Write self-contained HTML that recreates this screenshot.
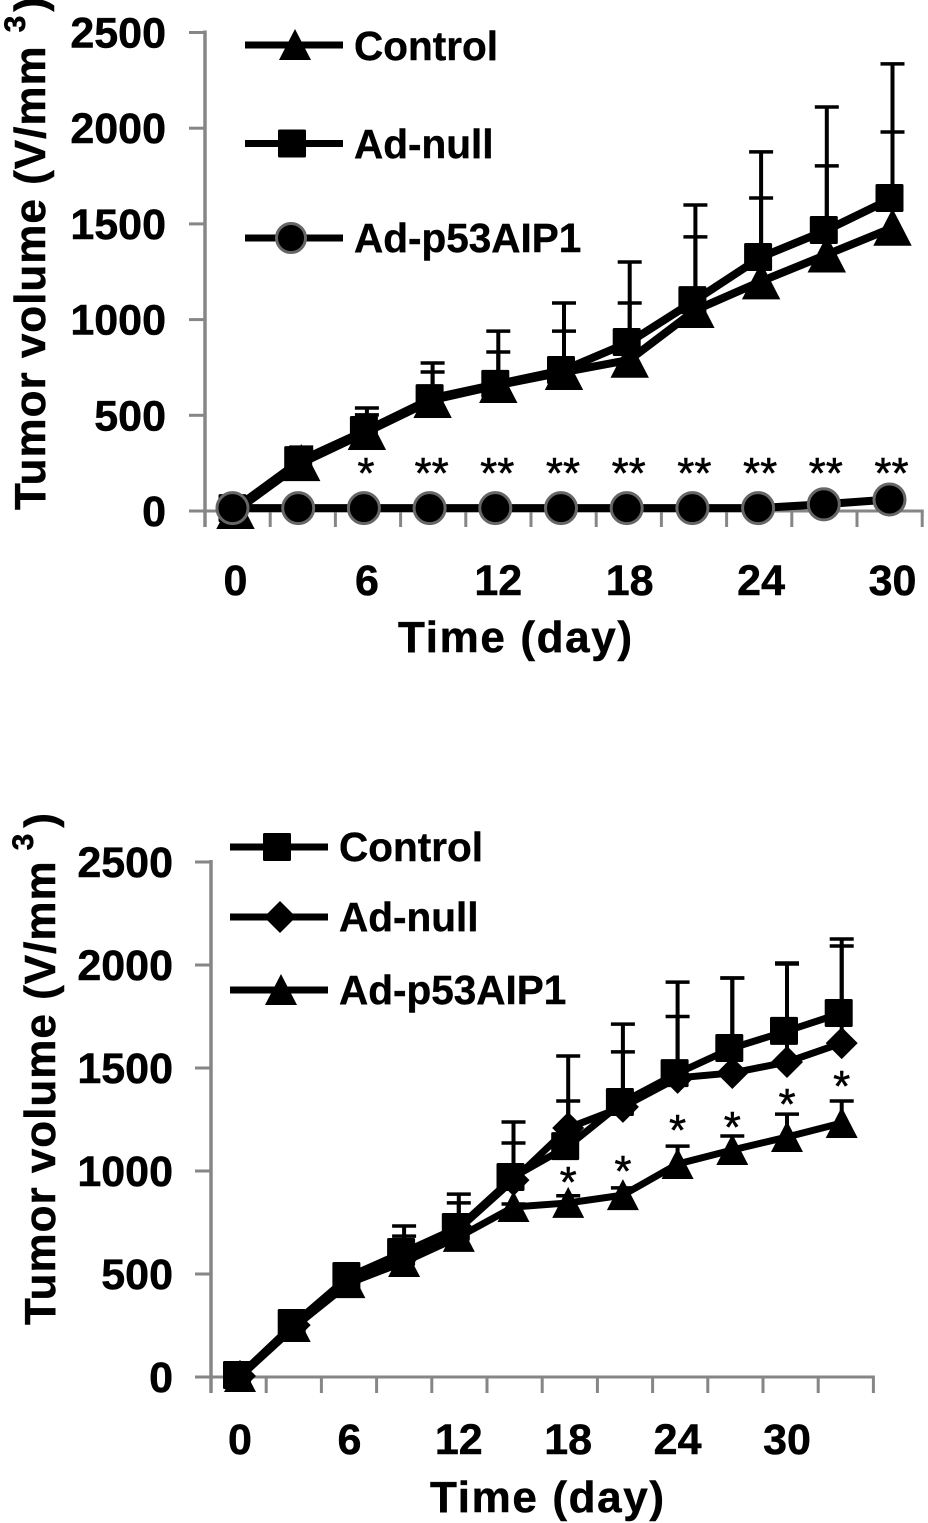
<!DOCTYPE html>
<html lang="en">
<head>
<meta charset="utf-8">
<title>Tumor volume charts</title>
<style>
html,body{margin:0;padding:0;background:#fff;}
svg{display:block;}
text{font-family:"Liberation Sans",Arial,sans-serif;fill:#000;}
.b{font-weight:bold;}
.tick{font-weight:bold;font-size:43px;stroke:#000;stroke-width:.5px;}
.leg{font-weight:bold;font-size:40.5px;stroke:#000;stroke-width:.4px;}
.ttl{font-weight:bold;font-size:44px;stroke:#000;stroke-width:.5px;}
.star{font-size:44px;text-anchor:middle;stroke:#000;stroke-width:.5px;}
</style>
</head>
<body>
<svg id="root" width="928" height="1523" viewBox="0 0 928 1523" xmlns="http://www.w3.org/2000/svg">
  <rect width="928" height="1523" fill="#fff"/>
  <g id="a">
    <text class="ttl" transform="translate(45,510) rotate(-90)" style="letter-spacing:1px">Tumor volume (V/mm<tspan dx="13" dy="-20" font-size="30">3</tspan><tspan dy="20" dx="3">)</tspan></text>
    <text class="ttl" x="398" y="652" textLength="234" lengthAdjust="spacing">Time (day)</text>
    <text class="leg" x="354" y="60">Control</text>
    <text class="leg" x="354" y="158">Ad-null</text>
    <text class="leg" x="354" y="252">Ad-p53AIP1</text>
  </g>
  <g id="b">
    <text class="ttl" transform="translate(55,1325) rotate(-90)" style="letter-spacing:1px">Tumor volume (V/mm<tspan dx="10" dy="-22" font-size="30">3</tspan><tspan dy="22" dx="5">)</tspan></text>
    <text class="ttl" x="430" y="1512" textLength="234" lengthAdjust="spacing">Time (day)</text>
    <text class="leg" x="339" y="861">Control</text>
    <text class="leg" x="339" y="931">Ad-null</text>
    <text class="leg" x="339" y="1004">Ad-p53AIP1</text>
  </g>
</svg>
<script>
// ---- chart data ----
const yTickValues = [0, 500, 1000, 1500, 2000, 2500];
const xTickLabels = ['0', '6', '12', '18', '24', '30'];

// top chart: one point every 3 days
const topControl = [0, 250, 413, 580, 658, 726, 790, 1050, 1200, 1340, 1480];
const topAdNull = [15, 266, 423, 590, 664, 737, 883, 1102, 1327, 1468, 1635];
const topP53 = [15, 15, 15, 15, 15, 15, 15, 15, 15, 35, 60];
const topControlUpper = [0, 319, 502, 726, 831, 940, 1087, 1432, 1635, 1803, 1980];
const topAdNullUpper = [15, 334, 538, 773, 940, 1087, 1301, 1599, 1876, 2111, 2336];
const topStarIndex = [2, 3, 4, 5, 6, 7, 8, 9, 10];
const topStarText = ['*', '**', '**', '**', '**', '**', '**', '**', '**'];
const topStarValue = [225, 225, 225, 225, 225, 225, 225, 225, 225];

// bottom chart
const botControl = [10, 262, 490, 607, 728, 971, 1121, 1335, 1475, 1597, 1680, 1767];
const botAdNull = [5, 252, 481, 592, 718, 956, 1209, 1311, 1452, 1476, 1529, 1621];
const botP53 = [0, 243, 456, 558, 680, 825, 845, 883, 1034, 1102, 1165, 1233];
const botControlUpper = [15, 270, 520, 733, 888, 1238, 1340, 1713, 1917, 1937, 2010, 2092];
const botAdNullUpper = [10, 260, 510, 684, 845, 1136, 1558, 1578, 1750, 1937, 2005, 2126];
const botP53Upper = [0, 250, 470, 570, 700, 840, 880, 918, 1121, 1170, 1276, 1340];
const botStarIndex = [6, 7, 8, 9, 10, 11];
const botStarText = ['*', '*', '*', '*', '*', '*'];
const botStarValue = [971, 1024, 1223, 1238, 1349, 1437];

// ---- axis functions ----
const xTop = i => 235.5 + 65.7 * i;
const yTop = v => 511 - v * 478.5 / 2500;
const xBot = i => 240 + 54.7 * i;
const yBot = v => 1377 - v * 515 / 2500;

const NS = 'http://www.w3.org/2000/svg';
const AXIS = '#868686';

function mk(parent, tag, name) {
  const el = document.createElementNS(NS, tag);
  
  
  parent.appendChild(el);
  return el;
}
function line(parent, name, x1, y1, x2, y2, color, w) {
  const el = mk(parent, 'line', name);
  el.setAttribute('x1', x1);
  el.setAttribute('y1', y1);
  el.setAttribute('x2', x2);
  el.setAttribute('y2', y2);
  el.setAttribute('stroke', color);
  el.setAttribute('stroke-width', w);
  return el;
}
function marker(parent, name, kind, x, y, scale) {
  const s = scale || 1;
  let el;
  if (kind === 'square') {
    el = mk(parent, 'rect', name);
    el.setAttribute('x', x - 14);
    el.setAttribute('y', y - 14);
    el.setAttribute('width', 28);
    el.setAttribute('height', 28);
    el.setAttribute('rx', 1.5);
    el.setAttribute('fill', '#000');
  } else if (kind === 'triangle') {
    el = mk(parent, 'polygon', name);
    el.setAttribute('points', x + ',' + (y - 16 * s) + ' ' + (x + 16 * s) + ',' + (y + 15 * s) + ' ' + (x - 16 * s) + ',' + (y + 15 * s));
    el.setAttribute('fill', '#000');
  } else if (kind === 'diamond') {
    el = mk(parent, 'polygon', name);
    el.setAttribute('points', x + ',' + (y - 16) + ' ' + (x + 16) + ',' + y + ' ' + x + ',' + (y + 16) + ' ' + (x - 16) + ',' + y);
    el.setAttribute('fill', '#000');
  } else {
    el = mk(parent, 'circle', name);
    el.setAttribute('cx', x);
    el.setAttribute('cy', y);
    el.setAttribute('r', 14.5 * s);
    el.setAttribute('fill', '#000');
    el.setAttribute('stroke', '#666');
    el.setAttribute('stroke-width', 3);
  }
  return el;
}
function label(parent, name, txt, x, y, cls, anchor) {
  const el = mk(parent, 'text', name);
  el.setAttribute('x', x);
  el.setAttribute('y', y);
  el.setAttribute('class', cls);
  el.setAttribute('text-anchor', anchor);
  el.textContent = txt;
  return el;
}
function axes(g, prefix, y, axisX, tickStep, tickCount, yLabelX, xf, xLabelY) {
  const baseY = y(0);
  line(g, prefix + '-y-axis', axisX, y(2500) - 2, axisX, baseY + 16, AXIS, 3.5);
  yTickValues.forEach(v => {
    line(g, prefix + '-y-tick', axisX - 16, y(v), axisX, y(v), AXIS, 3);
    label(g, prefix + '-y-tick-label', String(v), yLabelX, y(v) + 15, 'tick', 'end');
  });
  const xEnd = axisX + tickStep * tickCount;
  line(g, prefix + '-x-axis', axisX - 16, baseY, xEnd + 1.5, baseY, AXIS, 3);
  for (let k = 1; k <= tickCount; k++) {
    line(g, prefix + '-x-tick', axisX + k * tickStep, baseY, axisX + k * tickStep, baseY + 16, AXIS, 3);
  }
  xTickLabels.forEach((t, n) => {
    label(g, prefix + '-x-tick-label', t, xf(n * 2), xLabelY, 'tick', 'middle');
  });
}
function errors(g, name, upper, means, x, y, thin) {
  upper.forEach((u, i) => {
    if (u <= means[i]) return;
    line(g, name + '-error-stem', x(i), y(means[i]), x(i), y(u), '#000', thin);
    line(g, name + '-error-cap', x(i) - 12, y(u), x(i) + 12, y(u), '#000', 3.5);
  });
}
function series(g, name, values, kind, x, y, dx, w, scale) {
  const path = mk(g, 'polyline', name + '-line');
  path.setAttribute('points', values.map((v, i) => x(i) + ',' + y(v)).join(' '));
  path.setAttribute('fill', 'none');
  path.setAttribute('stroke', '#000');
  path.setAttribute('stroke-width', w);
  path.setAttribute('stroke-linejoin', 'round');
  values.forEach((v, i) => {
    marker(g, name + '-point', kind, x(i) + dx, y(v), scale);
  });
}
function stars(g, name, idx, txt, vals, x, y, dx) {
  idx.forEach((n, k) => {
    label(g, name, txt[k], x(n) + dx, y(vals[k]) + 20, 'star', 'middle');
  });
}
function legendRow(g, name, kind, x1, x2, mx, yy) {
  line(g, name + '-line', x1, yy, x2, yy, '#000', 7);
  marker(g, name + '-marker', kind, mx, yy);
}

// ---- top chart ----
const gA = document.getElementById('a');
axes(gA, 'top', yTop, 205, 65.2, 11, 166, xTop, 595);
errors(gA, 'top-control', topControlUpper, topControl, xTop, yTop, 4);
errors(gA, 'top-ad-null', topAdNullUpper, topAdNull, xTop, yTop, 4);
series(gA, 'top-control', topControl, 'triangle', xTop, yTop, 0, 8, 1.2);
series(gA, 'top-ad-null', topAdNull, 'square', i => xTop(i), yTop, -3, 8);
series(gA, 'top-p53aip1', topP53, 'circle', i => xTop(i) - 3, yTop, 0, 8, 1.07);
stars(gA, 'top-significance', topStarIndex, topStarText, topStarValue, xTop, yTop, -1);
legendRow(gA, 'top-legend-control', 'triangle', 245, 343, 295, 45);
legendRow(gA, 'top-legend-ad-null', 'square', 245, 343, 292, 143.5);
legendRow(gA, 'top-legend-ad-p53aip1', 'circle', 245, 343, 291, 238);

// ---- bottom chart ----
const gB = document.getElementById('b');
axes(gB, 'bottom', yBot, 211, 55.2, 12, 173, xBot, 1454);
errors(gB, 'bottom-control', botControlUpper, botControl, xBot, yBot, 4);
errors(gB, 'bottom-ad-null', botAdNullUpper, botAdNull, xBot, yBot, 4);
errors(gB, 'bottom-p53aip1', botP53Upper, botP53, xBot, yBot, 4);
series(gB, 'bottom-p53aip1', botP53, 'triangle', xBot, yBot, 0, 7, 1);
series(gB, 'bottom-ad-null', botAdNull, 'diamond', xBot, yBot, 0, 7);
series(gB, 'bottom-control', botControl, 'square', xBot, yBot, -3, 7);
stars(gB, 'bottom-significance', botStarIndex, botStarText, botStarValue, xBot, yBot, 0);
legendRow(gB, 'bottom-legend-control', 'square', 230, 328, 277, 847);
legendRow(gB, 'bottom-legend-ad-null', 'diamond', 230, 328, 280, 917);
legendRow(gB, 'bottom-legend-ad-p53aip1', 'triangle', 230, 328, 281, 990);
</script>
</body>
</html>
